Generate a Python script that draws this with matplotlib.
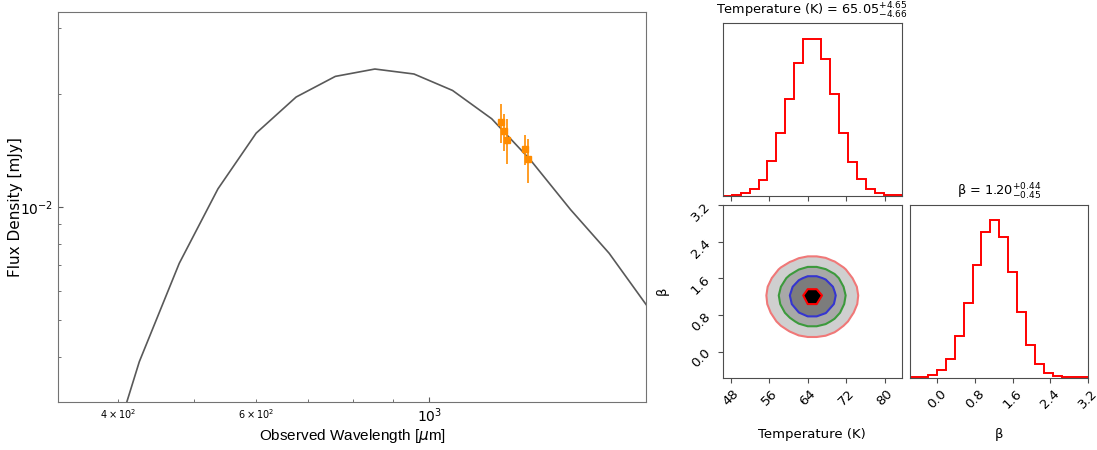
import numpy as np
import matplotlib
matplotlib.use("Agg")
import matplotlib.pyplot as plt

# ---------------- SED model + photometry ----------------
wave_model = [379, 425.6, 478.8, 536.6, 600.6, 675.6, 758.3, 852, 956,
              1071, 1202, 1347, 1516, 1699, 1906]
flux_model = [0.00178, 0.003877, 0.00709, 0.01119, 0.01575, 0.01965, 0.02230,
              0.02333, 0.02263, 0.02046, 0.01720, 0.01337, 0.00986, 0.00754, 0.00541]

wave_obs = [1235, 1246, 1257, 1327, 1337]
flux_obs = [0.01685, 0.01591, 0.01512, 0.01428, 0.01343]
flux_err = [0.0020, 0.0018, 0.0021, 0.0013, 0.0018]

# ---------------- posterior histograms (20 bins) ----------------
temp_range = (46.3, 83.5)
beta_range = (-0.57, 3.21)
temp_counts = [1, 4, 8, 21, 48, 104, 188, 291, 401, 473,
               473, 412, 306, 188, 103, 50, 22, 8, 4, 2]
beta_counts = [1, 3, 9, 23, 55, 124, 223, 338, 435, 471,
               421, 316, 196, 99, 40, 13, 4, 2, 1, 1]
temp_ticks = [48, 56, 64, 72, 80]
beta_ticks = [0.0, 0.8, 1.6, 2.4, 3.2]
sigmas = [0.5, 1.0, 1.5, 2.0]

fig = plt.figure(figsize=(10.97, 4.5), dpi=100)

# ---------------------- SED panel ----------------------
ax = fig.add_axes([0.0529, 0.1067, 0.536, 0.8667])
ax.plot(wave_model, flux_model, color='0.35', lw=1.2)
ax.errorbar(wave_obs, flux_obs, yerr=flux_err, fmt='s', color='darkorange',
            ms=4, elinewidth=1.2, capsize=0)
ax.set_xscale('log')
ax.set_yscale('log')
ax.set_xlim(335, 1894)
ax.set_ylim(0.00303, 0.0331)
for s in ax.spines.values():
    s.set_color('0.45')
ax.tick_params(which='both', direction='in', color='0.35', labelsize=10)
ax.tick_params(which='major', length=3.5)
ax.tick_params(which='minor', length=2)
ax.tick_params(axis='x', which='minor', labelsize=7)
ax.set_xlabel(r'Observed Wavelength [$\mu$m]', fontsize=11, labelpad=1,
              family=['Liberation Sans', 'DejaVu Sans'])
ax.set_ylabel('Flux Density [mJy]', fontsize=11)
ax.yaxis.set_label_coords(-0.06, 0.5)

# ---------------------- corner panels ----------------------
t_edges = np.linspace(temp_range[0], temp_range[1], len(temp_counts) + 1)
b_edges = np.linspace(beta_range[0], beta_range[1], len(beta_counts) + 1)
t_cent = 0.5 * (t_edges[1:] + t_edges[:-1])
b_cent = 0.5 * (b_edges[1:] + b_edges[:-1])

w, h = 0.1632, 0.3848
ax_t = fig.add_axes([0.6588, 0.5644, w, h])
ax_2d = fig.add_axes([0.6588, 0.1607, w, h])
ax_b = fig.add_axes([0.8295, 0.1607, 0.1625, h])

spine_col = '0.3'
for a in (ax_t, ax_2d, ax_b):
    for s in a.spines.values():
        s.set_color(spine_col)
    a.tick_params(direction='out', color=spine_col, labelsize=9.5, length=3.5)

# temperature histogram
ax_t.hist(t_cent, bins=t_edges, weights=temp_counts, histtype='step',
          color='red', lw=1.4)
ax_t.set_xlim(temp_range)
ax_t.set_ylim(0, 1.1 * max(temp_counts))
ax_t.set_yticks([])
ax_t.set_xticks(temp_ticks)
ax_t.set_xticklabels([])
ax_t.set_title(r'Temperature (K) = $65.05_{-4.66}^{+4.65}$', fontsize=9.3)

# beta histogram
ax_b.hist(b_cent, bins=b_edges, weights=beta_counts, histtype='step',
          color='red', lw=1.4)
ax_b.set_xlim(beta_range[0], 3.2)
ax_b.set_ylim(0, 1.1 * max(beta_counts))
ax_b.set_yticks([])
ax_b.set_xticks(beta_ticks)
ax_b.set_xticklabels([f'{v:.1f}' for v in beta_ticks], rotation=45)
ax_b.set_title(r'β = $1.20_{-0.45}^{+0.44}$', fontsize=9.3)
ax_b.set_xlabel('β', fontsize=9.5)
ax_b.xaxis.set_label_coords(0.5, -0.29)

# 2D density from the two marginals
H = np.outer(temp_counts, beta_counts).astype(float)
Hflat = np.sort(H.flatten())[::-1]
cum = np.cumsum(Hflat)
cum /= cum[-1]
fracs = 1 - np.exp(-0.5 * np.array(sigmas) ** 2)
V = np.sort([Hflat[cum <= f][-1] for f in fracs])

fill_cols = ['#cfcfcf', '#a8a8a8', '#7c7c7c', 'black']
line_cols = ['#f07878', '#3c9a3c', '#3535d0', 'red']
ax_2d.contourf(t_cent, b_cent, H.T, list(V) + [H.max() * 1.0001], colors=fill_cols)
ax_2d.contour(t_cent, b_cent, H.T, V, colors=line_cols, linewidths=1.5)
ax_2d.set_xlim(temp_range)
ax_2d.set_ylim(beta_range)
ax_2d.set_xticks(temp_ticks)
ax_2d.set_yticks(beta_ticks)
ax_2d.set_xticklabels([str(v) for v in temp_ticks], rotation=45)
ax_2d.set_yticklabels([f'{v:.1f}' for v in beta_ticks], rotation=45)
ax_2d.set_xlabel('Temperature (K)', fontsize=9.5)
ax_2d.set_ylabel('β', fontsize=9.5)
ax_2d.xaxis.set_label_coords(0.5, -0.29)
ax_2d.yaxis.set_label_coords(-0.3, 0.5)

fig.savefig('out.png', dpi=100)
